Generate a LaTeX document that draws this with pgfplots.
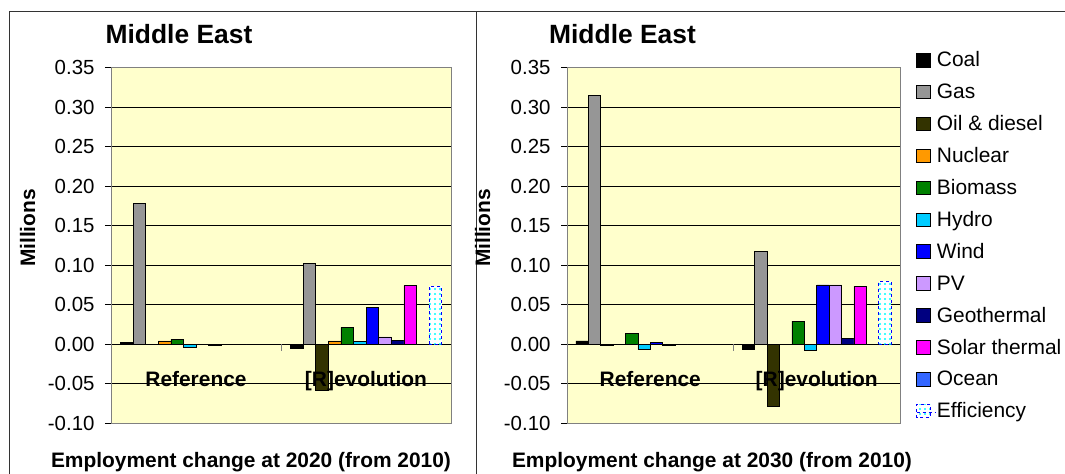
\documentclass[border=0pt]{standalone}
\usepackage{fontspec}
\setmainfont{Liberation Sans}
\usepackage{pgfplots}
\pgfplotsset{compat=1.18}
\usepackage{pgfplotstable}
\usetikzlibrary{patterns,patterns.meta}

\definecolor{cCoal}{HTML}{000000}
\definecolor{cGas}{HTML}{969696}
\definecolor{cOil}{HTML}{333300}
\definecolor{cNuc}{HTML}{FF9900}
\definecolor{cBio}{HTML}{008000}
\definecolor{cHyd}{HTML}{00CCFF}
\definecolor{cWind}{HTML}{0000FF}
\definecolor{cPV}{HTML}{CC99FF}
\definecolor{cGeo}{HTML}{000080}
\definecolor{cSol}{HTML}{FF00FF}
\definecolor{cOcean}{HTML}{3366FF}
\definecolor{bgY}{HTML}{FFFFCC}

% Employment change at 2020 (from 2010)
\pgfplotstableread{
cat coal gas oil nuclear biomass hydro wind pv geo solar ocean eff
0 0.002 0.178 0.000 0.004 0.006 -0.004 0.000 -0.002 0.000 0.000 0 nan
1 -0.006 0.102 -0.058 0.004 0.021 0.003 0.046 0.009 0.005 0.074 0 0.073
}\dataA
% Employment change at 2030 (from 2010)
\pgfplotstableread{
cat coal gas oil nuclear biomass hydro wind pv geo solar ocean eff
0 0.004 0.315 -0.001 0.000 0.013 -0.007 0.002 -0.001 0.000 0.000 0 nan
1 -0.007 0.117 -0.079 0.000 0.029 -0.008 0.075 0.075 0.007 0.073 0 0.080
}\dataB

\newcommand{\tickfont}{\fontsize{20.5}{24}\selectfont}
\newcommand{\labfont}{\bfseries\fontsize{21}{24}\selectfont}
\newcommand{\titfont}{\bfseries\fontsize{26.5}{30}\selectfont}

\pgfplotsset{
  myax/.style={
    scale only axis, height=355.3bp,
    ymin=-0.1, ymax=0.35, xmin=-0.5, xmax=1.5,
    ytick={-0.05,0,0.05,0.1,0.15,0.2,0.25,0.3},
    yticklabels={-0.05,0.00,0.05,0.10,0.15,0.20,0.25,0.30},
    extra y ticks={-0.1,0.35},
    extra y tick labels={-0.10,0.35},
    extra y tick style={grid=none},
    ymajorgrids, grid style={black, line width=0.8bp},
    axis background/.style={fill=bgY},
    axis line style={draw=gray, line width=1bp},
    xtick=\empty,
    tick align=outside, ytick pos=left, major tick length=6bp,
    tick style={black, line width=0.8bp},
    yticklabel style={font=\tickfont, xshift=-7bp},
    ybar=0pt,
    every axis plot/.append style={draw=black, line width=0.6bp},
    clip=false,
  },
  effstyle/.style={fill=white, draw=blue, dashed, line width=0.7bp,
    postaction={pattern color=cyan, pattern={Dots[radius=1.1bp,distance=5bp]}}},
}

\begin{document}
\begin{tikzpicture}
\useasboundingbox (0,0) rectangle (1065bp,-474bp);

% panel frames
\draw[black!80, line width=1bp] (9bp,-474bp) -- (9bp,-11.5bp) -- (1065bp,-11.5bp);
\draw[black!80, line width=1bp] (476bp,-11.5bp) -- (476bp,-474bp);

% ---------------- left panel ----------------
\begin{axis}[myax, width=340bp, bar width=12.6bp,
  at={(111bp,-423bp)}, anchor=south west]
\addplot[fill=cCoal] table[x=cat,y=coal]{\dataA};
\addplot[fill=cGas] table[x=cat,y=gas]{\dataA};
\addplot[fill=cOil] table[x=cat,y=oil]{\dataA};
\addplot[fill=cNuc] table[x=cat,y=nuclear]{\dataA};
\addplot[fill=cBio] table[x=cat,y=biomass]{\dataA};
\addplot[fill=cHyd] table[x=cat,y=hydro]{\dataA};
\addplot[fill=cWind] table[x=cat,y=wind]{\dataA};
\addplot[fill=cPV] table[x=cat,y=pv]{\dataA};
\addplot[fill=cGeo] table[x=cat,y=geo]{\dataA};
\addplot[fill=cSol] table[x=cat,y=solar]{\dataA};
\addplot[fill=cOcean] table[x=cat,y=ocean]{\dataA};
\addplot[effstyle] table[x=cat,y=eff]{\dataA};
\draw[gray, line width=0.8bp] (axis cs:-0.5,0) -- ([yshift=-7bp]axis cs:-0.5,0);
\draw[gray, line width=0.8bp] (axis cs:0.5,0) -- ([yshift=-7bp]axis cs:0.5,0);
\draw[gray, line width=0.8bp] (axis cs:1.5,0) -- ([yshift=-7bp]axis cs:1.5,0);
\node[font=\labfont, anchor=base] at (axis cs:0,-0.0535) {Reference};
\node[font=\labfont, anchor=base] at (axis cs:1,-0.0535) {[R]evolution};
\end{axis}

% ---------------- right panel ----------------
\begin{axis}[myax, width=333bp, bar width=12.4bp,
  at={(567bp,-423bp)}, anchor=south west,
  legend style={draw=none, fill=none, inner sep=0pt,
    at={(1.048,1.0506)}, anchor=north west,
    font=\fontsize{21}{24}\selectfont,
    row sep=8.9bp,
    nodes={text height=15bp, text depth=4bp, inner sep=2bp}},
  legend cell align=left,
  legend image code/.code={\draw[#1, line width=0.8bp] (0bp,-5.5bp) rectangle (13.5bp,8bp);
    \path[draw=none, fill=none] (0bp,0bp) -- (18bp,0bp);},
]
\addplot[fill=cCoal] table[x=cat,y=coal]{\dataB};
\addplot[fill=cGas] table[x=cat,y=gas]{\dataB};
\addplot[fill=cOil] table[x=cat,y=oil]{\dataB};
\addplot[fill=cNuc] table[x=cat,y=nuclear]{\dataB};
\addplot[fill=cBio] table[x=cat,y=biomass]{\dataB};
\addplot[fill=cHyd] table[x=cat,y=hydro]{\dataB};
\addplot[fill=cWind] table[x=cat,y=wind]{\dataB};
\addplot[fill=cPV] table[x=cat,y=pv]{\dataB};
\addplot[fill=cGeo] table[x=cat,y=geo]{\dataB};
\addplot[fill=cSol] table[x=cat,y=solar]{\dataB};
\addplot[fill=cOcean] table[x=cat,y=ocean]{\dataB};
\addplot[effstyle] table[x=cat,y=eff]{\dataB};
\legend{Coal,Gas,Oil \& diesel,Nuclear,Biomass,Hydro,Wind,PV,Geothermal,Solar thermal,Ocean,Efficiency}
\draw[gray, line width=0.8bp] (axis cs:-0.5,0) -- ([yshift=-7bp]axis cs:-0.5,0);
\draw[gray, line width=0.8bp] (axis cs:0.5,0) -- ([yshift=-7bp]axis cs:0.5,0);
\draw[gray, line width=0.8bp] (axis cs:1.5,0) -- ([yshift=-7bp]axis cs:1.5,0);
\node[font=\labfont, anchor=base] at (axis cs:0,-0.0535) {Reference};
\node[font=\labfont, anchor=base] at (axis cs:1,-0.0535) {[R]evolution};
\end{axis}

% titles and axis titles
\node[font=\titfont, anchor=base] at (179bp,-43bp) {Middle East};
\node[font=\titfont, anchor=base] at (622.5bp,-43bp) {Middle East};
\node[font=\labfont, rotate=90, anchor=base] at (35bp,-228bp) {Millions};
\node[font=\labfont, rotate=90, anchor=base] at (490bp,-228bp) {Millions};
\node[font=\labfont, anchor=base] at (251bp,-467bp) {Employment change at 2020 (from 2010)};
\node[font=\labfont, anchor=base] at (712bp,-467bp) {Employment change at 2030 (from 2010)};
\end{tikzpicture}
\end{document}
